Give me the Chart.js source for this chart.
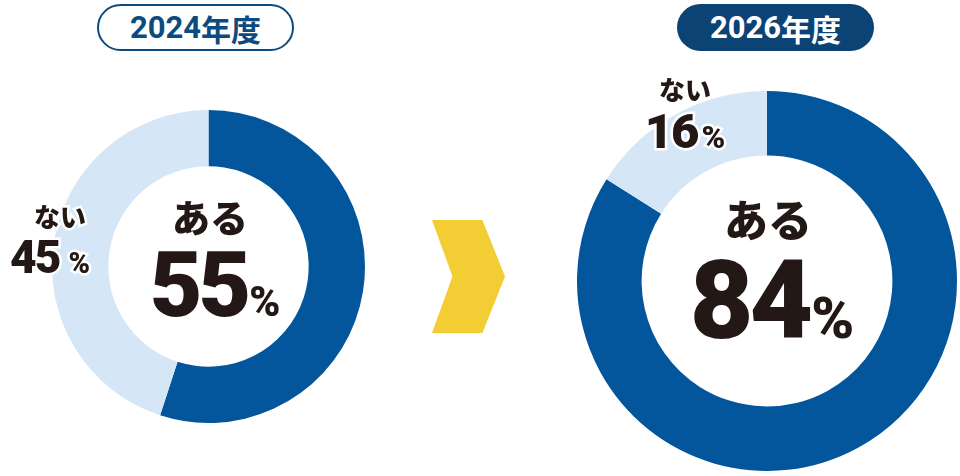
<!DOCTYPE html>
<html lang="ja">
<head>
<meta charset="utf-8">
<script src="https://cdn.jsdelivr.net/npm/chart.js@4"></script>
<style>
  html, body { margin: 0; padding: 0; background: #fff; }
  #stage { position: relative; width: 960px; height: 476px; overflow: hidden; }
  .wrap { position: absolute; }
  .badge {
    position: absolute; top: 4px; width: 197px; height: 47px; box-sizing: border-box;
    border-radius: 24px; display: flex; align-items: center; justify-content: center;
    font-family: Roboto, "Noto Sans CJK JP", sans-serif; font-weight: 700; font-size: 31px;
  }
  .badge .jp { font-family: "Noto Sans CJK JP", sans-serif; font-size: 30px; }
  .badge.outline { left: 97px; border: 2px solid #0d4b7f; color: #0d4b7f; background: #fff; }
  .badge.filled { left: 677px; background: #0b4375; color: #fff; }
  .chevron {
    position: absolute; left: 432px; top: 220px; width: 73px; height: 113px; background: #f3cd34;
    clip-path: polygon(0 0, 69% 0, 100% 50%, 69% 100%, 0 100%, 28% 50%);
  }
  .lbl {
    position: absolute; transform: translateX(-50%); white-space: nowrap; color: #231815;
    line-height: 1; -webkit-text-stroke: 5px #fff; paint-order: stroke fill;
  }
  .lbl .jp { font-family: "Noto Sans CJK JP", sans-serif; font-weight: 900; display: block; text-align: center; }
  .lbl .num { font-family: Roboto, sans-serif; font-weight: 900; }
  .lbl .pct { font-family: Roboto, sans-serif; font-weight: 900; }
</style>
</head>
<body>
<div id="stage">
  <div class="wrap" style="left:52px;top:110px;width:313px;height:313px;"><canvas id="chart2024"></canvas></div>
  <div class="wrap" style="left:577px;top:91px;width:380px;height:380px;"><canvas id="chart2026"></canvas></div>
  <div class="badge outline" id="badge2024"></div>
  <div class="badge filled" id="badge2026"></div>
  <div class="chevron"></div>
</div>
<script>
const categories = ['ある', 'ない'];
const years = ['2024', '2026'];
const yearSuffix = '年度';
const values2024 = [55, 45];
const values2026 = [84, 16];
const colors = ['#03569b', '#d5e6f6'];

function makeDoughnut(id, values, cutout) {
    const ctx = document.getElementById(id).getContext('2d');
    return new Chart(ctx, {
        type: 'doughnut',
        data: {
            labels: categories,
            datasets: [{
                data: values,
                backgroundColor: colors,
                borderWidth: 0,
                hoverOffset: 0
            }]
        },
        options: {
            responsive: true,
            maintainAspectRatio: false,
            animation: false,
            cutout: cutout,
            layout: { padding: 0 },
            plugins: { legend: { display: false }, tooltip: { enabled: false } }
        }
    });
}

function setBadge(id, year) {
    const el = document.getElementById(id);
    el.innerHTML = `${year}<span class="jp">${yearSuffix}</span>`;
}

// label block: category word on top, value + % below
function addLabel(word, value, opts) {
    const stage = document.getElementById('stage');
    const wordEl = document.createElement('div');
    wordEl.className = 'lbl';
    wordEl.style.left = opts.wordX + 'px';
    wordEl.style.top = opts.wordY + 'px';
    wordEl.innerHTML = `<span class="jp" style="font-size:${opts.wordSize}px">${word}</span>`;
    stage.appendChild(wordEl);

    const numEl = document.createElement('div');
    numEl.className = 'lbl';
    numEl.style.left = opts.numX + 'px';
    numEl.style.top = opts.numY + 'px';
    numEl.style.letterSpacing = (opts.spacing || 0) + 'px';
    numEl.innerHTML = `<span class="num" style="font-size:${opts.numSize}px">${value}</span>` +
        `<span class="pct" style="font-size:${opts.pctSize}px;margin-left:${opts.gap}px">%</span>`;
    stage.appendChild(numEl);
}

makeDoughnut('chart2024', values2024, '64%');
makeDoughnut('chart2026', values2026, '66%');
setBadge('badge2024', years[0]);
setBadge('badge2026', years[1]);

// 2024
addLabel(categories[0], values2024[0], { wordX: 210, wordY: 197, wordSize: 38, numX: 213, numY: 240, numSize: 91, pctSize: 42, gap: 2, spacing: -4 });
addLabel(categories[1], values2024[1], { wordX: 60, wordY: 203, wordSize: 26, numX: 49, numY: 234, numSize: 46, pctSize: 29, gap: 9, spacing: -2 });
// 2026
addLabel(categories[0], values2026[0], { wordX: 768, wordY: 196, wordSize: 44, numX: 770, numY: 246, numSize: 110, pctSize: 58, gap: 2, spacing: -4 });
addLabel(categories[1], values2026[1], { wordX: 685, wordY: 76, wordSize: 26, numX: 684, numY: 107, numSize: 49, pctSize: 32, gap: 4, spacing: -2 });
</script>
</body>
</html>
